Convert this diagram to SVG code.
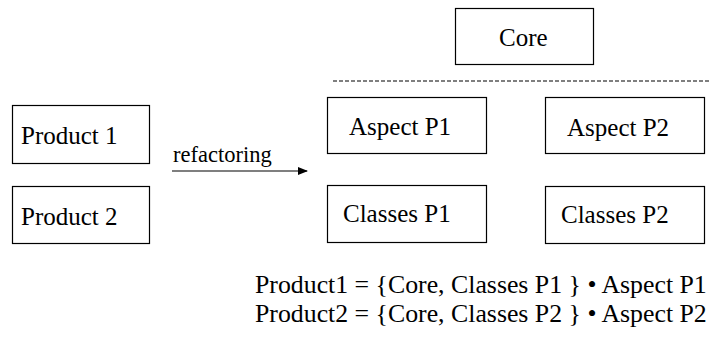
<svg xmlns="http://www.w3.org/2000/svg" width="710" height="345" viewBox="0 0 710 345">
<style>
.box{fill:#fff;stroke:#000;stroke-width:1.2}
.conn{stroke:#000;stroke-width:1.2;fill:none}
</style>
<defs>
<marker id="ah" markerWidth="10" markerHeight="8" refX="9" refY="4" orient="auto" markerUnits="userSpaceOnUse">
<path d="M0,0 L10,4 L0,8 Z" fill="#000"/>
</marker>
</defs>
<rect width="710" height="345" fill="#fff"/>
<g>
<g id="core"><rect class="box" x="455.5" y="8.5" width="138" height="56"/><text x="499" y="46" style="font-family:'Liberation Serif',serif;font-size:25px" fill="#000">Core</text></g>
<g id="product1"><rect class="box" x="12.5" y="105.5" width="137" height="58"/><text x="21" y="144" style="font-family:'Liberation Serif',serif;font-size:25px" fill="#000">Product 1</text></g>
<g id="product2"><rect class="box" x="12.5" y="186.5" width="137" height="57"/><text x="21" y="225" style="font-family:'Liberation Serif',serif;font-size:25px" fill="#000">Product 2</text></g>
<g id="aspectP1"><rect class="box" x="327.5" y="97.5" width="159" height="56"/><text x="349" y="135" style="font-family:'Liberation Serif',serif;font-size:25px" fill="#000">Aspect P1</text></g>
<g id="classesP1"><rect class="box" x="327.5" y="185.5" width="159" height="57"/><text x="343" y="222" style="font-family:'Liberation Serif',serif;font-size:25px" fill="#000">Classes P1</text></g>
<g id="aspectP2"><rect class="box" x="545.5" y="97.5" width="159" height="56"/><text x="567" y="136" style="font-family:'Liberation Serif',serif;font-size:25px" fill="#000">Aspect P2</text></g>
<g id="classesP2"><rect class="box" x="545.5" y="186.5" width="159" height="57"/><text x="561" y="223" style="font-family:'Liberation Serif',serif;font-size:25px" fill="#000">Classes P2</text></g>
<g id="connectors">
<line class="conn" x1="333" y1="81" x2="710" y2="81" stroke-dasharray="4,2"/>
<line class="conn" x1="172" y1="171" x2="307" y2="171" marker-end="url(#ah)"/>
<text x="173" y="162" style="font-family:'Liberation Serif',serif;font-size:22.5px" fill="#000">refactoring</text>
</g>
<g id="equations">
<text x="255" y="293" style="font-family:'Liberation Serif',serif;font-size:25.8px" fill="#000">Product1 = {Core, Classes P1 } • Aspect P1</text>
<text x="255" y="322" style="font-family:'Liberation Serif',serif;font-size:25.8px" fill="#000">Product2 = {Core, Classes P2 } • Aspect P2</text>
</g>
</g>
</svg>
